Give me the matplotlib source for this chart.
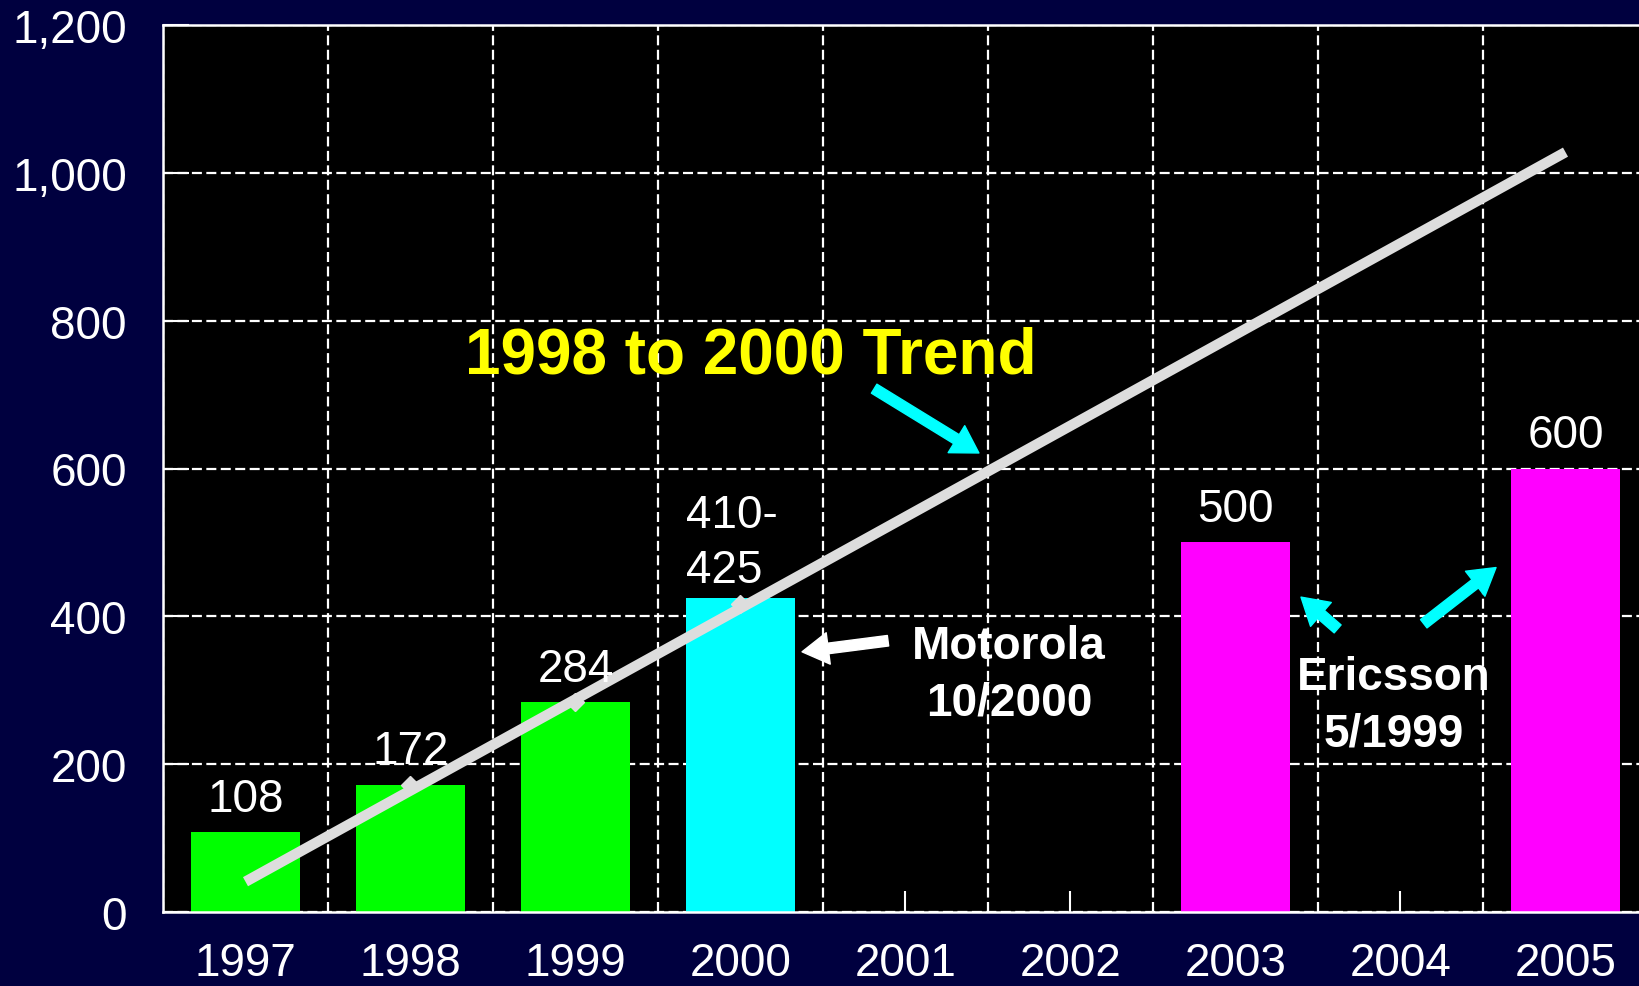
import matplotlib
matplotlib.use("Agg")
import matplotlib.pyplot as plt
from matplotlib.ticker import FuncFormatter, MultipleLocator

plt.rcParams['font.family'] = ['Liberation Sans', 'DejaVu Sans']

# data
years = ['1997', '1998', '1999', '2000', '2001', '2002', '2003', '2004', '2005']
values = [108, 172, 284, 425, 0, 0, 500, 0, 600]
bar_colors = ['#00FF00', '#00FF00', '#00FF00', '#00FFFF', '#000000', '#000000',
              '#FF00FF', '#000000', '#FF00FF']
value_labels = ['108', '172', '284', '410-\n425', '', '', '500', '', '600']

trend_x = [0, 8]
trend_y = [41, 1028]
point_x = [1, 2, 3]
point_y = [172, 284, 417]

bg = '#00003F'
fig = plt.figure(figsize=(16.4, 9.87), dpi=100, facecolor=bg)
ax = fig.add_axes([163 / 1640, 74 / 987, 1485 / 1640, 887 / 987])
ax.set_facecolor('black')

x = list(range(len(years)))
ax.bar(x, values, width=0.66, color=bar_colors, zorder=2)

# value labels
for i, (v, lab) in enumerate(zip(values, value_labels)):
    if not lab:
        continue
    if '\n' in lab:
        # range label, left aligned on the bar edge
        ax.text(i - 0.33, v + 21, lab, ha='left', va='baseline', color='white',
                fontsize=33, linespacing=1.32, zorder=5)
    else:
        ax.text(i, v + 29, lab, ha='center', va='baseline', color='white',
                fontsize=33, zorder=5)

# trend line
ax.plot(trend_x, trend_y, color='#DDDDDD', lw=7.5, solid_capstyle='butt', zorder=4)
ax.plot(point_x, point_y, ls='none', marker='D', ms=9, color='#DDDDDD', zorder=4)

ax.set_xlim(-0.5, 8.5)
ax.set_ylim(0, 1200)
ax.set_xticks(x)
ax.set_xticklabels(years)
ax.xaxis.set_minor_locator(MultipleLocator(1, offset=0.5))
ax.yaxis.set_major_locator(MultipleLocator(200))
ax.yaxis.set_major_formatter(FuncFormatter(lambda v, p: f'{int(v):,}'))

ax.tick_params(axis='x', which='major', direction='in', length=15, width=1.5,
               color='white', labelcolor='white', labelsize=33, pad=21)
ax.tick_params(axis='x', which='minor', length=0)
ax.tick_params(axis='y', direction='in', length=19, width=1.5,
               color='white', labelcolor='white', labelsize=33, pad=26)

ax.grid(True, axis='y', which='major', color='white', lw=1.6, ls=(0, (4.5, 2)), zorder=1)
ax.grid(True, axis='x', which='minor', color='white', lw=1.6, ls=(0, (4.5, 2)), zorder=1)
ax.set_axisbelow(True)

for side in ['left', 'bottom', 'top']:
    ax.spines[side].set_color('white')
    ax.spines[side].set_linewidth(1.8)
ax.spines['right'].set_visible(False)

# annotations
ax.text(3.064, 753, '1998 to 2000 Trend', ha='center', va='center', color='#FFFF00',
        fontsize=46, fontweight='bold', zorder=6)
ax.text(4.627, 322, 'Motorola\n10/2000', ha='center', va='center', color='white',
        fontsize=33, fontweight='bold', linespacing=1.38, zorder=6)
ax.text(6.96, 280, 'Ericsson\n5/1999', ha='center', va='center', color='white',
        fontsize=33, fontweight='bold', linespacing=1.38, zorder=6)

arrows = [
    ((3.81, 708), (4.445, 621), '#00FFFF'),
    ((3.894, 367), (3.373, 352), 'white'),
    ((6.619, 383), (6.397, 426), '#00FFFF'),
    ((7.141, 390), (7.579, 466), '#00FFFF'),
]
for tail, tip, col in arrows:
    ax.annotate('', xy=tip, xytext=tail,
                arrowprops=dict(arrowstyle='simple,head_length=0.5,head_width=0.6,tail_width=0.2',
                                color=col, mutation_scale=38, shrinkA=0, shrinkB=0),
                zorder=6)

fig.savefig('out.png', dpi=100, facecolor=bg)
